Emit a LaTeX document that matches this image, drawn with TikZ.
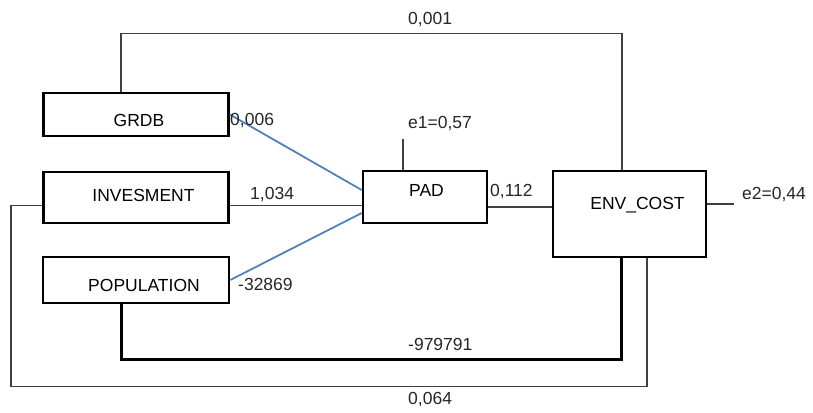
\documentclass[tikz,border=0pt]{standalone}
\usepackage{fontspec}
\setmainfont{Liberation Sans}
\usetikzlibrary{calc}

\begin{document}
\begin{tikzpicture}[x=1pt,y=-1pt,
  font=\fontsize{17.5}{20}\selectfont,
  box/.style={draw,line width=2.6pt,inner sep=0pt},
  link/.style={line width=1.6pt,black!75},
  heavylink/.style={line width=2.6pt,black},
  blueline/.style={line width=1.8pt,color={rgb,255:red,79;green,129;blue,189}},
  num/.style={anchor=west,inner sep=0pt,text=black!85}]

\useasboundingbox (0,0) rectangle (813,412);

% Variables
\node[box,minimum width=185pt,minimum height=43pt,text height=24.5pt,text depth=0pt] (grdb) at (136,114.5) {\hspace{6pt}GRDB};
\node[box,minimum width=185pt,minimum height=51pt,text height=12.5pt,text depth=5pt] (inv) at (136,197.5) {\hspace{15pt}INVESMENT};
\node[box,minimum width=186pt,minimum height=46pt,text height=23.5pt,text depth=0pt] (pop) at (136,280) {\hspace{16pt}POPULATION};
\node[box,minimum width=124pt,minimum height=52pt,text height=12.5pt,text depth=14pt] (pad) at (425,197) {\hspace{3pt}PAD};
\node[box,minimum width=153pt,minimum height=86pt,text height=12.5pt,text depth=22pt] (env) at (629.5,214) {\hspace{16pt}ENV\_COST};

% Paths to PAD
\draw[blueline] (grdb.east) -- ([yshift=7pt]pad.west);
\draw[blueline] (pop.east) -- ([yshift=-16pt]pad.west);
\draw[link] ([yshift=-8pt]inv.east) -- ([yshift=-8pt]inv.east -| pad.west);
\draw[link] ([yshift=-10pt]pad.east) -- ([yshift=-10pt]pad.east -| env.west);

% Errors
\draw[link] ([xshift=41pt]pad.north west) -- ++(0,-31);
\draw[link] ([yshift=10pt]env.east) -- ++(27,0);

% Direct paths to ENV_COST
\draw[link] ([xshift=79pt]grdb.north west) -- ++(0,-58) -| ([xshift=70pt]env.north west);
\draw[heavylink] ([xshift=80pt]pop.south west) -- ++(0,55) -| ([xshift=70pt]env.south west);
\draw[link] ([yshift=-8pt]inv.west) -- ++(-31,0) -- ++(0,181) -| ([xshift=95pt]env.south west);

% Coefficients
\node[num] (c1) at (408,20) {0,001};
\node[num] (c2) at (230,121) {0,006};
\node[num] (c3) at (250,195) {1,034};
\node[num] (c4) at (238,284) {-32869};
\node[num] (c5) at (490,192) {0,112};
\node[num] (c6) at (408,344) {-979791};
\node[num] (c7) at (408,400) {0,064};
\node[num] (e1) at (408,124) {e1=0,57};
\node[num] (e2) at (742,195) {e2=0,44};
\end{tikzpicture}
\end{document}
